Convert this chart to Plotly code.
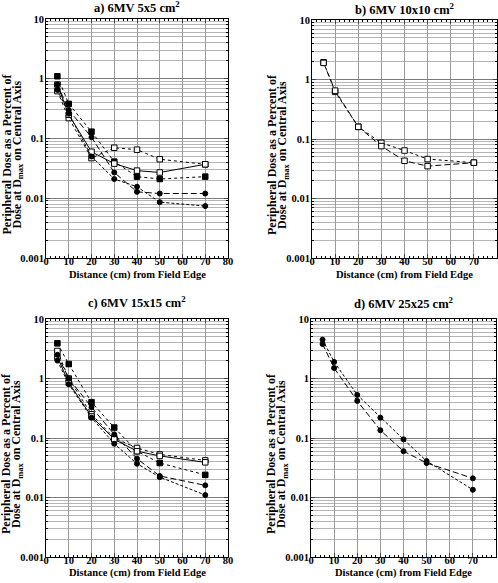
import plotly.graph_objects as go

# ---------------- data ----------------
distance = [5, 10, 20, 30, 40, 50, 70]

# a) 6MV 5x5
a_fsq_dot = [1.1, 0.38, 0.13, 0.041, 0.023, 0.021, 0.023]
a_osq_dot = [0.62, 0.22, 0.047, 0.07, 0.065, 0.045, 0.037]
a_osq_solid = [0.8, 0.25, 0.06, 0.038, 0.029, 0.027, 0.037]
a_fci_dash = [0.8, 0.3, 0.105, 0.027, 0.0128, 0.012, 0.012]
a_fci_sdash = [0.65, 0.26, 0.05, 0.021, 0.0156, 0.0086, 0.0074]

# b) 6MV 10x10
b_osq_dot = [1.95, 0.62, 0.16, 0.086, 0.064, 0.046, 0.04]
b_osq_dash = [1.9, 0.65, 0.16, 0.076, 0.043, 0.035, 0.04]

# c) 6MV 15x15
c_fsq_dot = [3.9, 1.75, 0.4, 0.15, 0.06, 0.038, 0.024]
c_osq_dot = [2.9, 1.0, 0.25, 0.1, 0.068, 0.053, 0.042]
c_osq_solid = [2.3, 0.85, 0.23, 0.095, 0.06, 0.05, 0.039]
c_fci_dash = [2.5, 1.0, 0.33, 0.115, 0.045, 0.023, 0.016]
c_fci_sdash = [2.0, 0.8, 0.22, 0.08, 0.037, 0.022, 0.011]

# d) 6MV 25x25
d_fci_sdash = [4.5, 1.9, 0.53, 0.22, 0.095, 0.041, 0.0135]
d_fci_dash = [3.8, 1.5, 0.42, 0.135, 0.06, 0.038, 0.021]

titles = ["a) 6MV 5x5 cm<sup>2</sup>", "b) 6MV 10x10 cm<sup>2</sup>",
          "c) 6MV 15x15 cm<sup>2</sup>", "d) 6MV 25x25 cm<sup>2</sup>"]
y_tickvals = [0.001, 0.01, 0.1, 1, 10]
y_ticktext = ["0.001", "0.01", "0.1", "1", "10"]
x_tickvals = [0, 10, 20, 30, 40, 50, 60, 70, 80]

# ---------------- layout geometry (pixels) ----------------
W, H = 498, 583
FONT = "Liberation Serif"
panels = {
    1: dict(x0=46, x1=228, y0=19, y1=258, tb=14, xt=275),
    2: dict(x0=312, x1=497, y0=20, y1=258, tb=16, xt=275),
    3: dict(x0=46, x1=228, y0=319, y1=557, tb=309, xt=573),
    4: dict(x0=311, x1=496, y0=319, y1=557, tb=310, xt=573),
}

fig = go.Figure()

def add(panel, y, marker, filled, dash):
    sfx = "" if panel == 1 else str(panel)
    fig.add_trace(go.Scatter(
        x=distance, y=y, mode="lines+markers",
        xaxis="x" + sfx, yaxis="y" + sfx,
        line=dict(color="black", width=1, dash=dash),
        marker=dict(symbol=marker, size=5.5 if marker == "square" else 5,
                    color="black" if filled else "white",
                    line=dict(color="black", width=1)),
        showlegend=False))

add(1, a_fsq_dot, "square", True, "dot")
add(1, a_osq_dot, "square", False, "dot")
add(1, a_osq_solid, "square", False, "solid")
add(1, a_fci_dash, "circle", True, "6px,3px")
add(1, a_fci_sdash, "circle", True, "3px,2px")

add(2, b_osq_dot, "square", False, "dot")
add(2, b_osq_dash, "square", False, "6px,3px")

add(3, c_fsq_dot, "square", True, "dot")
add(3, c_osq_dot, "square", False, "dot")
add(3, c_osq_solid, "square", False, "solid")
add(3, c_fci_dash, "circle", True, "6px,3px")
add(3, c_fci_sdash, "circle", True, "3px,2px")

add(4, d_fci_sdash, "circle", True, "3px,2px")
add(4, d_fci_dash, "circle", True, "6px,3px")

layout = dict(
    width=W, height=H, margin=dict(l=0, r=0, t=0, b=0),
    paper_bgcolor="white", plot_bgcolor="white",
    font=dict(family=FONT, color="black"),
    annotations=[],
)

for i, p in panels.items():
    sfx = "" if i == 1 else str(i)
    xd = [p["x0"] / W, p["x1"] / W]
    yd = [1 - p["y1"] / H, 1 - p["y0"] / H]
    layout["xaxis" + sfx] = dict(
        domain=xd, anchor="y" + sfx, range=[0, 80], automargin=False,
        tickvals=x_tickvals, ticks="inside", ticklen=4, ticklabelstandoff=-7,
        showline=True, linecolor="black", linewidth=1, mirror="allticks",
        showgrid=True, gridcolor="#9a9a9a", gridwidth=1,
        minor=dict(dtick=2, ticks="inside", ticklen=2, tickcolor="black", showgrid=False),
        tickfont=dict(family=FONT, size=10.5, color="black", weight="bold"),
        zeroline=False,
    )
    layout["yaxis" + sfx] = dict(
        domain=yd, anchor="x" + sfx, type="log", range=[-3, 1], automargin=False,
        tickvals=y_tickvals, ticktext=y_ticktext, ticks="inside", ticklen=4,
        ticklabelstandoff=-1,
        showline=True, linecolor="black", linewidth=1, mirror="allticks",
        showgrid=True, gridcolor="#7a7a7a", gridwidth=1,
        minor=dict(dtick="D1", ticks="inside", ticklen=2, tickcolor="black",
                   showgrid=True, gridcolor="#b5b5b5", gridwidth=1),
        tickfont=dict(family=FONT, size=10.5, color="black", weight="bold"),
        zeroline=False,
    )
    cx = (p["x0"] + p["x1"]) / 2 / W
    # panel title
    layout["annotations"].append(dict(
        text="<b>" + titles[i - 1] + "</b>", x=cx, y=1 - (p["tb"] + 3) / H,
        xref="paper", yref="paper", xanchor="center", yanchor="bottom",
        showarrow=False, font=dict(family=FONT, size=12.5, color="black")))
    # x-axis title
    layout["annotations"].append(dict(
        text="<b>Distance (cm) from Field Edge</b>", x=cx, y=1 - p["xt"] / H,
        xref="paper", yref="paper", xanchor="center", yanchor="middle",
        showarrow=False, font=dict(family=FONT, size=10.5, color="black")))
    # y-axis title (two lines)
    ymid = 1 - ((p["y0"] + p["y1"]) / 2 + 16) / H
    layout["annotations"].append(dict(
        text="<b>Peripheral Dose as a Percent of</b>",
        x=(p["x0"] - 40) / W, y=ymid, xref="paper", yref="paper",
        xanchor="center", yanchor="middle", textangle=-90, showarrow=False,
        font=dict(family=FONT, size=12, color="black")))
    layout["annotations"].append(dict(
        text="<b>Dose at D<sub>max</sub> on Central Axis</b>",
        x=(p["x0"] - 29) / W, y=ymid, xref="paper", yref="paper",
        xanchor="center", yanchor="middle", textangle=-90, showarrow=False,
        font=dict(family=FONT, size=12, color="black")))

fig.update_layout(**layout)
fig.write_html("out.html", config={"displayModeBar": False},
               post_script="document.body.style.margin='0';")
